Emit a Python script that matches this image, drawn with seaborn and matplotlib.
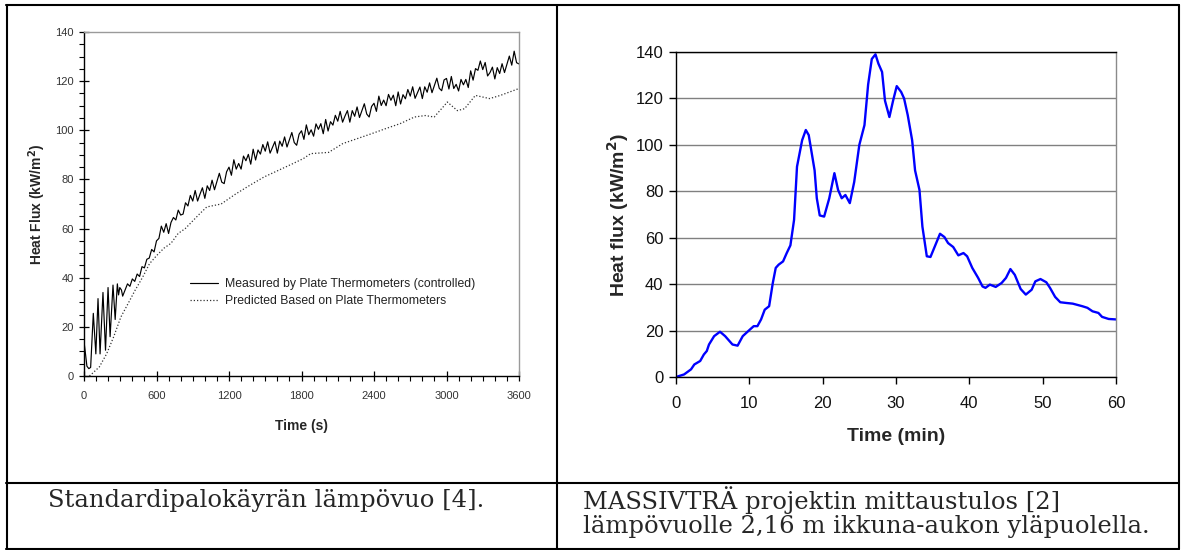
import numpy as np
import pandas as pd
import matplotlib
matplotlib.use('Agg')
import matplotlib.pyplot as plt
from matplotlib.lines import Line2D
from matplotlib.ticker import MultipleLocator
import seaborn as sns

# --- data: left panel (standard fire curve heat flux, time in s) ---
meas_t = [0, 10, 24, 40, 55, 77, 98, 116, 133, 157, 178, 199, 216, 240, 258, 276, 286, 296, 310,
          320, 340, 360, 380, 400, 420, 440, 460, 480, 500, 520, 540, 560, 580, 600,
          620, 640, 660, 680, 700, 720, 740, 760, 780, 800,
          820, 840, 860, 880, 900, 920, 940, 960, 980, 1000,
          1020, 1040, 1060, 1080, 1100, 1120, 1140, 1160, 1180, 1200,
          1220, 1240, 1260, 1280, 1300, 1320, 1340, 1360, 1380, 1400,
          1420, 1440, 1460, 1480, 1500, 1520, 1540, 1560, 1580, 1600,
          1620, 1640, 1660, 1680, 1700, 1720, 1740, 1760, 1780, 1800,
          1820, 1840, 1860, 1880, 1900, 1920, 1940, 1960, 1980, 2000,
          2020, 2040, 2060, 2080, 2100, 2120, 2140, 2160, 2180, 2200,
          2220, 2240, 2260, 2280, 2300, 2320, 2340, 2360, 2380, 2400,
          2420, 2440, 2460, 2480, 2500, 2520, 2540, 2560, 2580, 2600,
          2620, 2640, 2660, 2680, 2700, 2720, 2740, 2760, 2780, 2800,
          2820, 2840, 2860, 2880, 2900, 2920, 2940, 2960, 2980, 3000,
          3020, 3040, 3060, 3080, 3100, 3120, 3140, 3160, 3180, 3200,
          3220, 3240, 3260, 3280, 3300, 3320, 3340, 3360, 3380, 3400,
          3420, 3440, 3460, 3480, 3500, 3520, 3540, 3560, 3580, 3600]
meas_q = [14, 10, 4, 3, 3.5, 25.5, 9, 31.5, 9, 34, 10.5, 36, 16, 37, 23, 37.5, 33, 36, 35,
          32.5, 35, 37.5, 36.5, 39.5, 38.5, 41.5, 40.5, 44.5, 44, 47.5, 48, 51.5, 50.5, 55,
          56, 61, 58.5, 62, 58, 62.5, 64.5, 63.5, 67.5, 65.5,
          65.9, 70.5, 69.2, 73.5, 71.2, 75.5, 71.2, 74, 76.6, 72.3,
          77.4, 75.5, 79.7, 75.8, 79.2, 82.5, 78.9, 78.3, 83.1, 85,
          81.7, 88, 84.2, 86.5, 84.2, 89.5, 87.6, 90.2, 86.2, 92.3,
          87.9, 92, 90.3, 94.2, 91.5, 95.3, 90.7, 93, 95.4, 90.7,
          95.6, 93.5, 97.3, 93.2, 96.1, 99.1, 95, 93.9, 98.4, 99.8,
          96.3, 102.2, 98.2, 100.2, 97.6, 102.6, 100.4, 102.7, 98.6, 104.4,
          99.7, 103.5, 102.1, 106.1, 103.7, 107.7, 103.3, 105.8, 108, 103.3,
          108, 105.7, 109.5, 105.2, 108, 110.8, 106.6, 105.4, 109.7, 111,
          107.7, 113.9, 110.1, 112.3, 110, 114.6, 112.2, 114.3, 110, 115.6,
          110.7, 114.5, 112.8, 116.6, 113.9, 117.7, 113, 115.3, 117.6, 112.9,
          117.7, 115.5, 119.3, 115.3, 118.2, 121.2, 117.1, 116.1, 120.5, 121.1,
          116.8, 121.9, 117, 118.7, 116, 120.7, 118.5, 120.7, 117.4, 124.2,
          120.4, 125.1, 124.4, 128.2, 124.7, 127.6, 122.1, 123.5, 125.7, 120.9,
          125.5, 123.1, 127.1, 123.5, 126.8, 130.2, 126.5, 132.2, 127.5, 127]

pred_t = [45, 68, 127, 187, 246, 305, 364, 424, 483, 542, 601, 661, 720, 779, 838, 957,
          1016, 1135, 1253, 1372, 1490, 1609, 1727, 1816, 1876, 2024, 2142, 2261, 2379,
          2498, 2616, 2735, 2824, 2898, 2972, 3007, 3090, 3150, 3239, 3357, 3446, 3600]
pred_q = [0, 1, 3.7, 9, 16, 24, 29.4, 35, 40, 45.7, 49, 52, 54, 58, 60, 66,
          68.8, 70, 74, 77.6, 81, 83.7, 86.4, 88.5, 90.5, 91, 94.6, 96.6, 98.6,
          100.7, 102.7, 105.4, 106, 105.4, 109.5, 111.5, 108, 108.8, 114.2, 112.9, 114.2, 117]

# --- data: right panel (MASSIVTRÄ measurement, time in min) ---
mass_t = [0, 1.1, 2.05, 2.5, 3.3, 3.8, 4.2, 4.5, 5.2, 6.0, 6.7, 7.7, 8.4, 9.1, 10.1, 10.6,
          11.1, 11.6, 12.1, 12.7, 13.2, 13.6, 14.0, 14.6, 15.1, 15.6, 16.1, 16.5, 17.2, 17.7,
          18.1, 18.9, 19.2, 19.6, 20.2, 20.9, 21.6, 22.1, 22.6, 23.1, 23.7, 24.3, 25.0, 25.7,
          26.2, 26.7, 27.2, 27.6, 28.1, 28.5, 29.1, 29.6, 30.1, 30.7, 31.1, 31.6, 32.2, 32.6,
          33.2, 33.6, 34.2, 34.7, 35.3, 36.0, 36.6, 37.1, 37.8, 38.5, 39.2, 39.7, 40.4, 41.2,
          41.8, 42.2, 42.8, 43.6, 44.4, 45.0, 45.6, 46.2, 47.0, 47.7, 48.5, 49.0, 49.7, 50.5,
          51.0, 51.7, 52.4, 53.2, 54.1, 55.4, 56.1, 56.8, 57.6, 58.1, 59.0, 60.0]
mass_q = [0, 1.1, 3.3, 5.4, 6.9, 9.7, 11.2, 14, 17.6, 19.5, 17.6, 14, 13.5, 17.6, 20.5, 21.9,
          21.9, 24.8, 29, 30.5, 40.5, 47, 48.4, 49.8, 53.4, 56.7, 67.7, 90.6, 102, 106.4,
          104.2, 89, 77, 69.6, 69.1, 77, 87.8, 80.6, 77, 78.4, 74.9, 84, 100, 108.5,
          126, 137, 139, 135, 131.4, 119, 112, 119, 125.3, 122.8, 120, 112.8, 102, 89,
          80.6, 64.8, 52, 51.7, 56.3, 61.7, 60.3, 57.7, 56, 52.4, 53.4, 52, 47, 42.7,
          39, 38.4, 39.8, 38.8, 40.5, 42.7, 46.5, 44, 37.9, 35.5, 37.6, 41.2, 42.2, 40.8,
          38.4, 34.5, 32.2, 31.9, 31.6, 30.5, 29.8, 28.3, 27.6, 25.9, 25, 24.8]

legend_labels = ['Measured by Plate Thermometers (controlled)',
                 'Predicted Based on Plate Thermometers']
caption_left = ['Standardipalokäyrän lämpövuo [4].']
caption_right = ['MASSIVTRÄ projektin mittaustulos [2]',
                 'lämpövuolle 2,16 m ikkuna-aukon yläpuolella.']

meas = pd.DataFrame({'t': meas_t, 'q': meas_q})
pred = pd.DataFrame({'t': pred_t, 'q': pred_q})
mass = pd.DataFrame({'t': mass_t, 'q': mass_q})

sns.set_style('white')
plt.rcParams['font.family'] = ['Liberation Sans', 'DejaVu Sans']

W, H = 1183, 550
fig = plt.figure(figsize=(W / 100, H / 100), dpi=100)

def fx(px):
    return px / W

def fy(py):
    return 1 - py / H

# ---- left panel ----
axl = fig.add_axes([fx(84), fy(376), fx(519) - fx(84), fy(32) - fy(376)])
sns.lineplot(data=meas, x='t', y='q', ax=axl, color='black', linewidth=0.85,
             estimator=None, sort=False, label=legend_labels[0])
sns.lineplot(data=pred, x='t', y='q', ax=axl, color='#333333', linewidth=0.9,
             estimator=None, sort=False, linestyle=(0, (1, 1.6)), label=legend_labels[1])
axl.set_xlim(0, 3600)
axl.set_ylim(0, 140)
axl.xaxis.set_major_locator(MultipleLocator(600))
axl.xaxis.set_minor_locator(MultipleLocator(100))
axl.yaxis.set_major_locator(MultipleLocator(20))
axl.yaxis.set_minor_locator(MultipleLocator(5))
axl.tick_params(which='major', direction='inout', length=7, width=0.9, color='black',
                labelsize=8, labelcolor='#333333', pad=4)
axl.tick_params(axis='x', which='major', pad=7)
axl.tick_params(which='minor', direction='out', length=3.5, width=0.8, color='black')
axl.tick_params(axis='x', which='both', bottom=True)
axl.tick_params(axis='y', which='both', left=True)
for s in ['left', 'bottom']:
    axl.spines[s].set_color('black')
    axl.spines[s].set_linewidth(1.0)
for s in ['top', 'right']:
    axl.spines[s].set_color('#9a9a9a')
    axl.spines[s].set_linewidth(1.0)
axl.set_xlabel('Time (s)', fontsize=10, fontweight='bold', labelpad=13)
axl.set_ylabel('Heat Flux (kW/m$^\\mathbf{2}$)', fontsize=10, fontweight='bold', labelpad=5)
axl.legend(loc='upper left', bbox_to_anchor=((190 - 84) / 435, (376 - 278) / 344),
           frameon=False, fontsize=8.8, handlelength=2.3, handletextpad=0.55,
           labelspacing=0.4, borderpad=0, borderaxespad=0, labelcolor='#222222')

# ---- right panel ----
axr = fig.add_axes([fx(676), fy(377), fx(1116) - fx(676), fy(52) - fy(377)])
sns.lineplot(data=mass, x='t', y='q', ax=axr, color='#0000ff', linewidth=1.7,
             estimator=None, sort=False)
axr.set_xlim(0, 60)
axr.set_ylim(0, 140)
axr.set_xticks([0, 10, 20, 30, 40, 50, 60])
axr.set_yticks([0, 20, 40, 60, 80, 100, 120, 140])
axr.yaxis.grid(True, color='#808080', linewidth=1.0)
axr.set_axisbelow(True)
axr.tick_params(direction='out', length=5, width=1.0, color='black',
                labelsize=12, labelcolor='#111111', pad=4)
axr.tick_params(axis='x', bottom=True, pad=9)
axr.tick_params(axis='y', left=True)
for s in ['left', 'bottom', 'top']:
    axr.spines[s].set_color('black')
    axr.spines[s].set_linewidth(1.0)
axr.spines['right'].set_color('#8a8a8a')
axr.spines['right'].set_linewidth(1.0)
axr.set_xlabel('Time (min)', fontsize=14, fontweight='bold', labelpad=12)
axr.set_ylabel('Heat flux (kW/m$^\\mathbf{2}$)', fontsize=14, fontweight='bold', labelpad=3)

# ---- table borders ----
lw = 1.5
def hline(y, x0, x1):
    fig.add_artist(Line2D([fx(x0), fx(x1)], [fy(y), fy(y)], color='black', lw=lw))

def vline(x, y0, y1):
    fig.add_artist(Line2D([fx(x), fx(x)], [fy(y0), fy(y1)], color='black', lw=lw))

hline(5, 6, 1179)
hline(483, 6, 1179)
hline(548.5, 6, 1179)
vline(6.5, 5, 549)
vline(557, 5, 549)
vline(1178.5, 5, 549)

# ---- captions ----
serif = ['DejaVu Serif', 'Liberation Serif']
for i, line in enumerate(caption_left):
    fig.text(fx(48), fy(500 + 27 * i), line, family=serif, fontsize=17.5, va='center', ha='left')
for i, line in enumerate(caption_right):
    fig.text(fx(583), fy(500 + 27 * i), line, family=serif, fontsize=17.5, va='center', ha='left')

fig.savefig('out.png', dpi=100)
